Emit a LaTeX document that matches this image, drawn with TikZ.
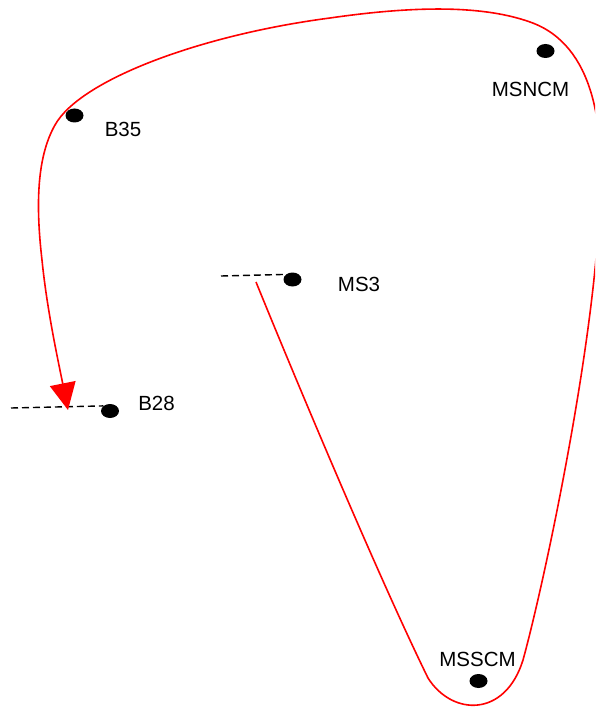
\documentclass[tikz,border=0pt]{standalone}
\usepackage{fontspec}
\setmainfont{Liberation Sans}
\usetikzlibrary{shapes.geometric,arrows.meta}
\tikzset{
  dot/.style={ellipse,fill=black,inner sep=0pt,minimum width=18pt,minimum height=14pt},
  lbl/.style={anchor=base,inner sep=0pt,font=\fontsize{20.5}{24}\selectfont},
  dashline/.style={dashed,dash pattern=on 7pt off 4pt,line width=1.4pt},
  route/.style={red,line width=1.6pt}
}
\begin{document}
\begin{tikzpicture}[x=1pt,y=-1pt,>={Triangle[length=27pt,width=26pt]}]
\useasboundingbox (0,0) rectangle (595,708);
\clip (0,0) rectangle (595,708);
\node[dot] (msncm) at (545.5,51) {};
\node[dot] (b35) at (74.5,115.5) {};
\node[dot] (ms3) at (292.5,279.5) {};
\node[dot] (b28) at (110,411) {};
\node[dot] (msscm) at (478.5,681) {};
\node[lbl] (msncmlbl) at (530.5,97) {MSNCM};
\node[lbl] (b35lbl) at (123,137) {B35};
\node[lbl] (ms3lbl) at (359,291) {MS3};
\node[lbl] (b28lbl) at (156.5,410) {B28};
\node[lbl] (msscmlbl) at (477.5,666) {MSSCM};
% dashed stubs
\coordinate (ms3tail) at (221,276);
\coordinate (b28tail) at (11,408);
\draw[dashline] (ms3tail)--(ms3.north west);
\draw[dashline] (b28tail)--(b28.north west);
% red route
\coordinate (ms3out) at (256,282);
\coordinate (b28in) at (68,410);
\draw[route,->] (ms3out) .. controls (300,390) and (380,580) .. (428,678)
  .. controls (452,716) and (505,718) .. (523,660)
  .. controls (545,580) and (598,330) .. (600,190)
  .. controls (603,130) and (596,45) .. (530,22)
  .. controls (485,6) and (420,5) .. (330,18)
  .. controls (200,35) and (80,80) .. (55,125)
  .. controls (38,155) and (35,200) .. (42,260)
  .. controls (47,310) and (58,360) .. (b28in);
\end{tikzpicture}
\end{document}
